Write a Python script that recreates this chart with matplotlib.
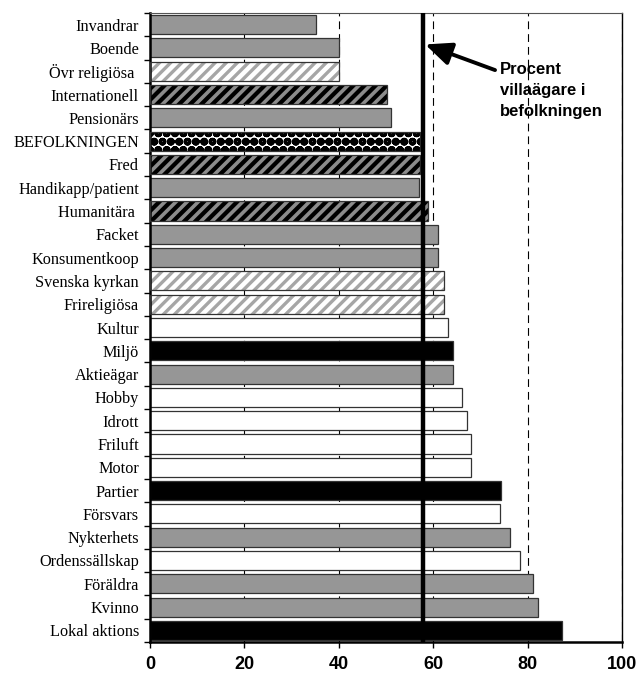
import numpy as np
import matplotlib.pyplot as plt

#Data, top to bottom
categories = ['Invandrar', 'Boende', 'Övr religiösa ', 'Internationell', 'Pensionärs',
              'BEFOLKNINGEN', 'Fred', 'Handikapp/patient', 'Humanitära ', 'Facket',
              'Konsumentkoop', 'Svenska kyrkan', 'Frireligiösa', 'Kultur', 'Miljö',
              'Aktieägar', 'Hobby', 'Idrott', 'Friluft', 'Motor', 'Partier', 'Försvars',
              'Nykterhets', 'Ordenssällskap', 'Föräldra', 'Kvinno', 'Lokal aktions']
values     = [35.2, 40.0, 40.0, 50.3, 51.1, 57.1, 57.1, 57.0, 59.0, 61.1,
              61.1, 62.2, 62.2, 63.1, 64.3, 64.3, 66.0, 67.2, 68.1, 68.1,
              74.3, 74.1, 76.3, 78.3, 81.2, 82.2, 87.2]
groups     = ['gray', 'gray', 'light', 'dark', 'gray', 'pop', 'dark', 'gray', 'dark', 'gray',
              'gray', 'light', 'light', 'white', 'black', 'gray', 'white', 'white', 'white', 'white',
              'black', 'white', 'gray', 'white', 'gray', 'gray', 'black']
pop_share  = 57.8
x_ticks    = [0, 20, 40, 60, 80, 100]
note       = 'Procent\nvillaägare i\nbefolkningen'

#Styles per group: face, hatch, hatch colour, hatch width
styles = {'gray':  ('#969696', '',    None,      0),
          'white': ('white',   '',    None,      0),
          'black': ('black',   '',    None,      0),
          'light': ('white',   '///', '#a6a6a6', 2.4),
          'dark':  ('black',   '///', '#8c8c8c', 2.6),
          'pop':   ('white',   'oo',  'black',   3.2)}

fig = plt.figure(figsize=(6.37, 6.73), dpi=100)
ax = fig.add_axes([150/637, 1 - 642/673, 472/637, 629/673])

y = np.arange(len(categories))
for i, (val, grp) in enumerate(zip(values, groups)):
    face, hatch, hcol, lw_h = styles[grp]
    if hatch:
        with plt.rc_context({'hatch.linewidth': lw_h}):
            b = ax.barh(y[i], val, height=0.82, color=face, edgecolor=hcol,
                        hatch=hatch, linewidth=0, zorder=2)
        for p in b:
            if hasattr(p, 'set_hatch_linewidth'):
                p.set_hatch_linewidth(lw_h)
        ax.barh(y[i], val, height=0.82, fill=False, edgecolor='#333333',
                linewidth=0.9, zorder=3)
    else:
        ax.barh(y[i], val, height=0.82, color=face, edgecolor='#333333',
                linewidth=0.9, zorder=2)

ax.axvline(pop_share, ymin=0, ymax=0.997, color='black', linewidth=3.2, zorder=4)

ax.annotate('', xy=(58.3, 0.85), xytext=(73.1, 1.95),
            arrowprops=dict(arrowstyle='-|>,head_length=0.8,head_width=0.35',
                            color='black', lw=2.8, shrinkA=0, shrinkB=0,
                            mutation_scale=20), zorder=5)
ax.text(74.2, 1.62, note, ha='left', va='top', fontsize=12, fontweight='bold',
        family='Liberation Sans', linespacing=1.5, zorder=5)

ax.set_xlim(0, 100)
ax.set_ylim(len(categories) - 0.5, -0.5)
ax.set_xticks(x_ticks)
ax.set_xticklabels([str(t) for t in x_ticks], fontsize=13, fontweight='bold',
                   family='Liberation Sans')
ax.set_yticks(y)
ax.set_yticklabels(categories, fontsize=11.7, family='Liberation Serif')
ax.set_yticks(np.arange(-0.5, len(categories), 1.0), minor=True)

ax.tick_params(axis='y', which='major', length=0, pad=8)
ax.tick_params(axis='y', which='minor', length=4, width=1, direction='out')
ax.tick_params(axis='x', which='major', length=4, width=1, direction='out', pad=6)

ax.set_axisbelow(True)
ax.xaxis.grid(True, linestyle=(0, (7, 4.5)), color='black', linewidth=0.8)

ax.spines['left'].set_linewidth(1.8)
ax.spines['bottom'].set_linewidth(1.8)
ax.spines['top'].set_linewidth(0.8)
ax.spines['top'].set_color('#555555')
ax.spines['right'].set_linewidth(1.0)

fig.savefig('out.png', dpi=100)
